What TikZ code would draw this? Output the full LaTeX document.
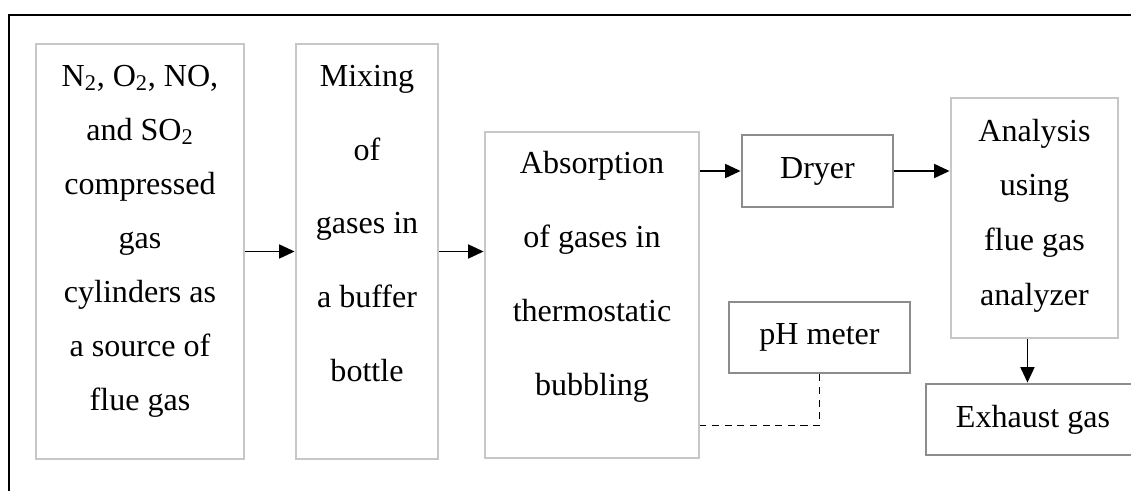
\documentclass[tikz,border=0pt]{standalone}
\usepackage{fontspec}
\setmainfont{Liberation Serif}
\usepackage{tikz}
\usetikzlibrary{arrows.meta,positioning,calc}
\definecolor{lightedge}{gray}{0.78}
\definecolor{darkedge}{gray}{0.55}

\begin{document}
\begin{tikzpicture}[x=0.025cm, y=-0.025cm,
		lightbox/.style={draw=lightedge, line width=2pt, fill=white},
		darkbox/.style={draw=darkedge, line width=2pt, fill=white, font=\fontsize{22.8}{26}\selectfont},
		boxtext/.style={align=center, inner sep=0pt},
		flow/.style={-{Triangle[length=11pt,width=10pt]}, line width=1.1pt}]
		\useasboundingbox (0,0) rectangle (1131,491);
		\draw[line width=1.1pt] (9,491) -- (9,15) -- (1131,15);

		% big boxes
		\node[lightbox, minimum width=5.2cm, minimum height=10.375cm] (src) at (140,251.5) {};
		\node[lightbox, minimum width=3.55cm, minimum height=10.375cm] (mix) at (367,251.5) {};
		\node[lightbox, minimum width=5.35cm, minimum height=8.15cm] (abs) at (592,295) {};
		\node[lightbox, minimum width=4.175cm, minimum height=6cm] (ana) at (1034.5,218) {};

		\node[boxtext, font=\fontsize{22.8}{38.4}\selectfont, below=0.55cm of src.north] (srctext)
			{N\textsubscript{2}, O\textsubscript{2}, NO,\\ and SO\textsubscript{2}\\ compressed\\ gas\\ cylinders as\\ a source of\\ flue gas};
		\node[boxtext, font=\fontsize{22.8}{52.6}\selectfont, below=0.55cm of mix.north] (mixtext)
			{Mixing\\ of\\ gases in\\ a buffer\\ bottle};
		\node[boxtext, font=\fontsize{22.8}{52.6}\selectfont, below=0.52cm of abs.north] (abstext)
			{Absorption\\ of gases in\\ thermostatic\\ bubbling};
		\node[boxtext, font=\fontsize{22.8}{39}\selectfont, below=0.55cm of ana.north] (anatext)
			{Analysis\\ using\\ flue gas\\ analyzer};

		% small boxes
		\node[darkbox, minimum width=3.775cm, minimum height=1.8cm] (dryer) at (817.5,171) {Dryer};
		\node[darkbox, minimum width=4.525cm, minimum height=1.775cm] (ph) at (819.5,337.5) {pH meter};
		\node[darkbox, minimum width=5.35cm, minimum height=1.775cm] (exh) at (1033,419.5) {Exhaust gas};

		\draw[flow] (src.east) -- (mix.west);
		\draw[flow] (mix.east) -- (mix.east -| abs.west);
		\draw[flow] (dryer.west -| abs.east) -- (dryer.west);
		\draw[flow] (dryer.east) -- (dryer.east -| ana.west);
		\draw[flow] ([xshift=-5pt]ana.south) -- ([xshift=-5pt]ana.south |- exh.north);
		\draw[dashed, dash pattern=on 5pt off 4pt, line width=1pt] (ph.south) |- ([yshift=24pt]abs.south east);
	\end{tikzpicture}
\end{document}
